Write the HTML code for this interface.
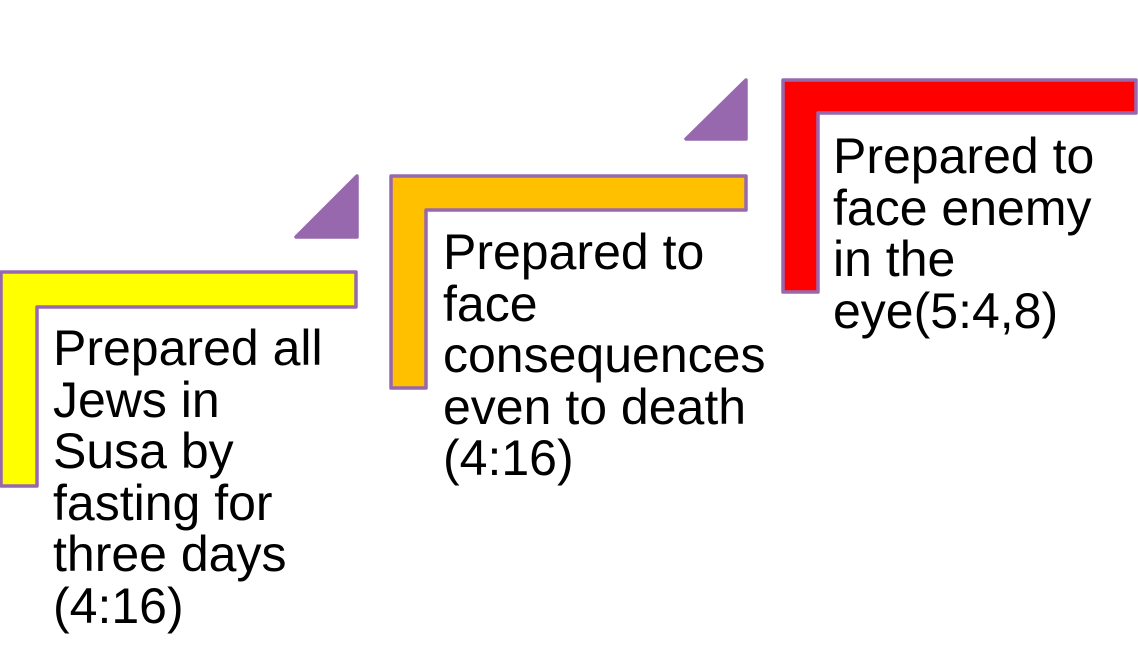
<!DOCTYPE html>
<html><head><style>
html,body{margin:0;padding:0;background:#fff;width:1138px;height:667px;overflow:hidden}
text{font-family:"Liberation Sans",sans-serif;font-size:50px;fill:#000}
</style></head><body>
<svg width="1138" height="667" viewBox="0 0 1138 667" xmlns="http://www.w3.org/2000/svg">
<g stroke="#9868ae" stroke-width="3.5" stroke-linejoin="round">
<polygon points="1,272 356,272 356,307 37,307 37,486 1,486" fill="#ffff00"/>
<polygon points="391,176 746,176 746,210 426,210 426,388 391,388" fill="#ffc000"/>
<polygon points="783,80 1136,80 1136,113 818,113 818,292 783,292" fill="#ff0000"/>
<polygon points="296,237 357,237 357,176" fill="#9868ae"/>
<polygon points="686,139 746,139 746,80" fill="#9868ae"/>
</g>
<text x="53" y="365">Prepared all</text>
<text x="53" y="417">Jews in</text>
<text x="53" y="468">Susa by</text>
<text x="53" y="520">fasting for</text>
<text x="53" y="571">three days</text>
<text x="53" y="623">(4:16)</text>
<text x="443" y="269">Prepared to</text>
<text x="443" y="321">face</text>
<text x="443" y="372">consequences</text>
<text x="443" y="424">even to death</text>
<text x="443" y="475">(4:16)</text>
<text x="833" y="173">Prepared to</text>
<text x="833" y="225">face enemy</text>
<text x="833" y="276">in the</text>
<text x="833" y="328">eye(5:4,8)</text>
</svg>
</body></html>
